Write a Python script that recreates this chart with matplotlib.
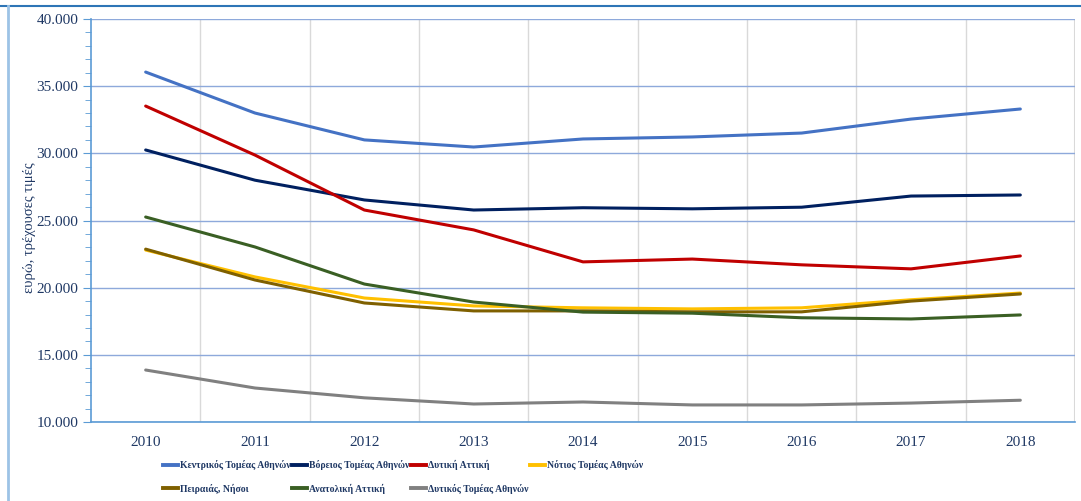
import matplotlib.pyplot as plt
from matplotlib.lines import Line2D
from matplotlib.ticker import MultipleLocator, FuncFormatter

plt.rcParams['font.family'] = ['Liberation Serif', 'DejaVu Serif']

years = ['2010', '2011', '2012', '2013', '2014', '2015', '2016', '2017', '2018']

kentrikos = [36050, 33000, 31000, 30470, 31070, 31220, 31510, 32550, 33300]
voreios = [30250, 28000, 26530, 25780, 25950, 25870, 25990, 26820, 26900]
dytiki_attiki = [33520, 29870, 25780, 24300, 21920, 22130, 21700, 21400, 22360]
notios = [22800, 20800, 19230, 18640, 18500, 18420, 18500, 19100, 19600]
peiraias = [22870, 20570, 18860, 18270, 18270, 18200, 18200, 19000, 19530]
anatoliki = [25260, 23030, 20270, 18930, 18180, 18100, 17760, 17670, 17970]
dytikos = [13870, 12530, 11800, 11340, 11490, 11270, 11270, 11410, 11620]

series = [
    ('Κεντρικός Τομέας Αθηνών', kentrikos, '#4472C4'),
    ('Βόρειος Τομέας Αθηνών', voreios, '#002060'),
    ('Δυτική Αττική', dytiki_attiki, '#C00000'),
    ('Νότιος Τομέας Αθηνών', notios, '#FFC000'),
    ('Πειραιάς, Νήσοι', peiraias, '#7F6000'),
    ('Ανατολική Αττική', anatoliki, '#3A5F24'),
    ('Δυτικός Τομέας Αθηνών', dytikos, '#808080'),
]

text_color = '#1F3864'

fig = plt.figure(figsize=(10.81, 5.01), dpi=100)
ax = fig.add_axes([91 / 1081, 1 - 422 / 501, (1075 - 91) / 1081, (422 - 19) / 501])

x = list(range(len(years)))
# yellow under brown so brown shows on top
order = [6, 5, 3, 4, 2, 1, 0]
for i in order:
    name, vals, col = series[i]
    ax.plot(x, vals, color=col, linewidth=2.2, solid_capstyle='round', zorder=3 + i * 0.01)

ax.set_xlim(-0.5, len(years) - 0.5)
ax.set_ylim(10000, 40000)
ax.set_xticks(x)
ax.set_xticklabels(years)
ax.yaxis.set_major_locator(MultipleLocator(5000))
ax.yaxis.set_minor_locator(MultipleLocator(1000))
ax.yaxis.set_major_formatter(FuncFormatter(lambda v, p: f'{int(v):,}'.replace(',', '.')))

# vertical grid at category boundaries, horizontal at major ticks
for b in range(len(years) - 1):
    ax.axvline(b + 0.5, color='#D9D9D9', linewidth=1, zorder=1)
ax.axvline(len(years) - 0.5, color='#D9D9D9', linewidth=1.5, zorder=1)
ax.grid(axis='y', which='major', color='#8EA9DB', linewidth=1, zorder=1)

for s in ['top', 'right']:
    ax.spines[s].set_visible(False)
ax.spines['left'].set_color('#5B9BD5')
ax.spines['bottom'].set_color('#5B9BD5')
ax.spines['left'].set_linewidth(1.2)
ax.spines['bottom'].set_linewidth(1.2)

ax.tick_params(axis='x', length=0, pad=10, labelsize=11, colors=text_color)
ax.tick_params(axis='y', which='major', length=6, color='#5B9BD5', labelsize=11, labelcolor=text_color, pad=3)
ax.tick_params(axis='y', which='minor', length=4, color='#5B9BD5')

fig.text(30 / 1081, 1 - 228 / 501, 'ευρώ, τρέχουσες τιμές', rotation=90, va='center', ha='center',
         fontsize=10.5, color=text_color)

# legend filled row by row: reorder for matplotlib's column-major filling
leg_order = [0, 4, 1, 5, 2, 6, 3]
handles = [Line2D([], [], color=series[i][2], linewidth=2.8) for i in leg_order]
labels = [series[i][0] for i in leg_order]
leg = fig.legend(handles, labels, ncol=4, loc='upper left', bbox_to_anchor=(163 / 1081, 1 - 460 / 501),
                 frameon=False, handlelength=1.55, handletextpad=0.2, columnspacing=0.15,
                 labelspacing=1.4, borderaxespad=0, borderpad=0, prop={'weight': 'bold', 'size': 7})
for t in leg.get_texts():
    t.set_color(text_color)

# outer frame lines
fig.add_artist(Line2D([0, 1], [1 - 6 / 501, 1 - 6 / 501], transform=fig.transFigure, color='#2E75B6', linewidth=1.5))
fig.add_artist(Line2D([8 / 1081, 8 / 1081], [0, 1 - 6 / 501], transform=fig.transFigure, color='#9DC3E6', linewidth=2))

fig.savefig('out.png', dpi=100)
